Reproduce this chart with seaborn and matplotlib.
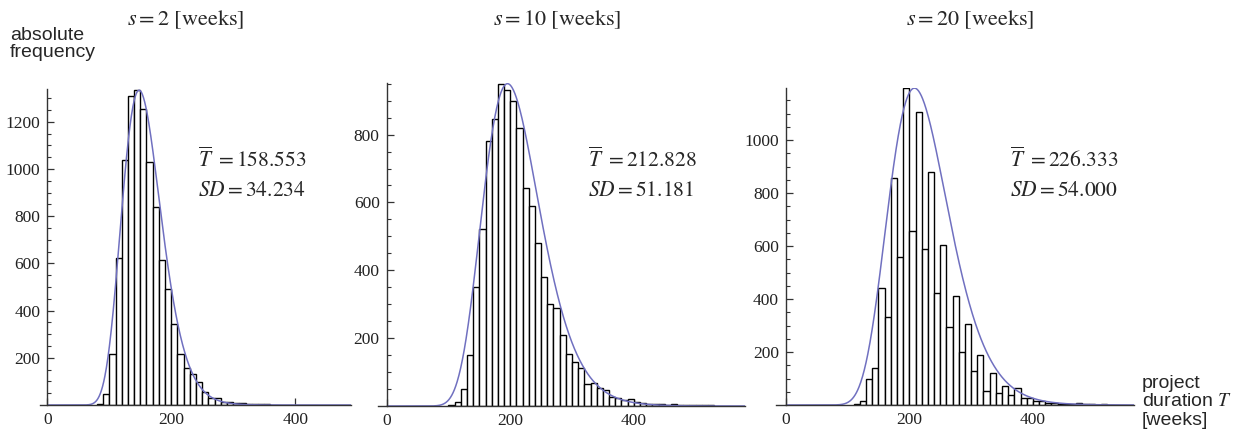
import numpy as np
import pandas as pd
import matplotlib
matplotlib.use("Agg")
import matplotlib.pyplot as plt
import seaborn as sns

sns.set_theme(style="white")
plt.rcParams['font.family'] = ['Liberation Serif', 'DejaVu Serif']
plt.rcParams['mathtext.fontset'] = 'stix'

# ---------------- data ----------------
bin_width = 10
s_values = [2, 10, 20]
means = [158.553, 212.828, 226.333]
sds = [34.234, 51.181, 54.000]

p1_start = 80
p1_counts = [6, 47, 216, 622, 1038, 1311, 1334, 1256, 1031, 837,
             615, 492, 344, 216, 155, 131, 96, 56, 31, 28,
             14, 14, 8, 10, 4, 4, 4, 4]
p2_start = 100
p2_counts = [3, 13, 49, 150, 351, 523, 780, 846, 950, 930,
             900, 818, 643, 589, 481, 381, 300, 288, 209, 152,
             130, 113, 64, 67, 54, 46, 26, 25, 17, 20,
             13, 10, 5, 5, 7, 3, 7, 2, 2, 3,
             3, 3, 2]
p3_start = 110
p3_counts = [4, 16, 98, 141, 442, 334, 857, 560, 1196, 656,
             1107, 588, 881, 422, 604, 296, 411, 200, 304, 129,
             190, 54, 119, 44, 73, 38, 64, 25, 25, 14,
             16, 9, 8, 4, 4, 4, 9, 2, 4, 0,
             4]
x_ticks = [0, 200, 400]
y_tick_step = 200

starts = [p1_start, p2_start, p3_start]
counts_all = [p1_counts, p2_counts, p3_counts]

# ---------------- layout ----------------
W, H = 1241, 437
fig = plt.figure(figsize=(W / 100, H / 100), dpi=100)

# (left px, right px, baseline px from top, top px from top)
boxes = [(39.9, 351.0, 405.0, 88.8),
         (378.0, 745.0, 406.0, 83.0),
         (776.0, 1134.3, 405.0, 87.6)]
xlims = [(-12, 490), (-14, 580), (-15.7, 564)]
ytops = [1340, 952, 1198]
curve_color = '#7070c0'

title_x = [186, 557, 970]
stat_x = [198, 588, 1010]

for i in range(3):
    l, r, b, t = boxes[i]
    ax = fig.add_axes([l / W, 1 - b / H, (r - l) / W, (b - t) / H])
    cnt = [float(c) for c in counts_all[i]]
    lefts = [starts[i] + bin_width * k for k in range(len(cnt))]
    edges = lefts + [lefts[-1] + bin_width]
    df = pd.DataFrame({'T': [v + bin_width / 2 for v in lefts], 'count': cnt})
    sns.histplot(data=df, x='T', weights='count', bins=edges, ax=ax,
                 color='white', edgecolor='black', linewidth=1.0, alpha=1.0)

    # fitted log-normal curve (from stated mean/SD), scaled to histogram max
    m, sd = means[i], sds[i]
    sig2 = np.log(1 + (sd / m) ** 2)
    mu = np.log(m) - sig2 / 2
    xs = np.linspace(1, xlims[i][1], 800)
    pdf = np.exp(-(np.log(xs) - mu) ** 2 / (2 * sig2)) / (xs * np.sqrt(2 * np.pi * sig2))
    ys = pdf / pdf.max() * max(cnt)
    sns.lineplot(x=xs, y=ys, ax=ax, color=curve_color, linewidth=1.1)

    ax.set_xlim(*xlims[i])
    ax.set_ylim(0, ytops[i])
    ax.set_xlabel('')
    ax.set_ylabel('')
    ax.set_facecolor('none')
    for sp in ['top', 'right']:
        ax.spines[sp].set_visible(False)
    ax.spines['left'].set_position(('data', 0))
    for sp in ['left', 'bottom']:
        ax.spines[sp].set_color('#333333')
        ax.spines[sp].set_linewidth(1.0)
    ax.set_xticks(x_ticks)
    ax.set_yticks(np.arange(y_tick_step, ytops[i], y_tick_step))
    ax.set_yticks(np.arange(50, ytops[i], 50), minor=True)
    ax.tick_params(axis='both', which='both', left=True, bottom=True,
                   right=False, top=False)
    ax.tick_params(axis='both', which='major', direction='in', length=5,
                   width=0.9, color='#333333', labelsize=12.5, labelcolor='#222222')
    ax.tick_params(axis='y', which='minor', direction='in', length=3,
                   width=0.8, color='#333333')
    ax.tick_params(axis='x', which='major', pad=5)
    ax.tick_params(axis='y', which='major', pad=5)
    ax.grid(False)

    fig.text(title_x[i] / W, 1 - 20 / H,
             r'$s = %d\ \left[\mathrm{weeks}\right]$' % s_values[i],
             ha='center', va='center', fontsize=16)
    fig.text(stat_x[i] / W, 1 - 160 / H,
             r'$\overline{T}\ = %.3f$' % means[i],
             ha='left', va='center', fontsize=15.5)
    fig.text(stat_x[i] / W, 1 - 191.5 / H,
             r'$SD = %.3f$' % sds[i],
             ha='left', va='center', fontsize=15.5)

fig.text(10 / W, 1 - 27 / H, 'absolute\nfrequency', ha='left', va='top',
         fontsize=14, family=['Liberation Sans', 'DejaVu Sans'], linespacing=1.0)
fig.text(1142 / W, 1 - 402 / H, 'project\nduration $\\mathit{T}$\n[weeks]',
         ha='left', va='center', fontsize=14,
         family=['Liberation Sans', 'DejaVu Sans'], linespacing=1.1)

fig.savefig('out.png', dpi=100)
